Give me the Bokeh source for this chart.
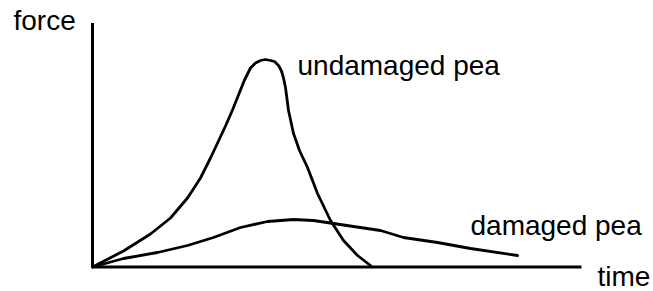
from bokeh.plotting import figure
from bokeh.models import Range1d
from bokeh.core.properties import value
from bokeh.embed import file_html
from bokeh.resources import INLINE

# Data (time and force in arbitrary units, origin at axes corner)
undamaged_time = [0, 31, 58, 78, 95, 108, 118, 126, 133, 140, 146, 152, 158, 163, 168, 173,
                  178, 182, 186, 189, 191, 193, 196, 201, 207, 215, 225, 238, 251, 265, 278]
undamaged_force = [0, 16, 33, 49, 69, 89, 109, 126, 141, 157, 172, 187, 199, 204, 206.5, 207.5,
                   206.5, 205.5, 201.5, 196, 189, 179.5, 156.5, 133.5, 116.5, 99.5, 73.5, 46.5, 26.5, 11.5, 1.5]

damaged_time = [0, 31, 65, 95, 121, 148, 175, 201, 221, 241, 261, 288, 311, 345, 378, 425]
damaged_force = [0, 8.5, 14.5, 21.5, 29.5, 39.5, 45.5, 47.5, 46.5, 43.5, 40.5, 36.5, 29.5, 24.5, 18.5, 11.5]

labels = ["force", "undamaged pea", "damaged pea", "time"]
label_time = [-79, 205, 378, 505]
label_force = [247, 202, 42, -9]

x_axis_end = 489
y_axis_top = 244

p = figure(width=653, height=291, output_backend="svg", toolbar_location=None,
           x_range=Range1d(-92, 561), y_range=Range1d(-24.5, 266.5),
           min_border=0, outline_line_color=None)
p.axis.visible = False
p.grid.visible = False
p.background_fill_color = "white"
p.border_fill_color = "white"

# axes as plain lines
p.segment(x0=[0, 0], y0=[0, 0], x1=[0, x_axis_end], y1=[y_axis_top, 0],
          line_color="black", line_width=3)

p.line(undamaged_time, undamaged_force, line_color="black", line_width=2.8,
       line_join="round", line_cap="round")
p.line(damaged_time, damaged_force, line_color="black", line_width=2.8,
       line_join="round", line_cap="round")

p.text(x=label_time, y=label_force, text=labels, text_font=value("Liberation Sans"),
       text_font_size="28px", text_color="black", text_align="left",
       text_baseline="alphabetic")

open("out.html", "w").write(file_html(p, INLINE))
